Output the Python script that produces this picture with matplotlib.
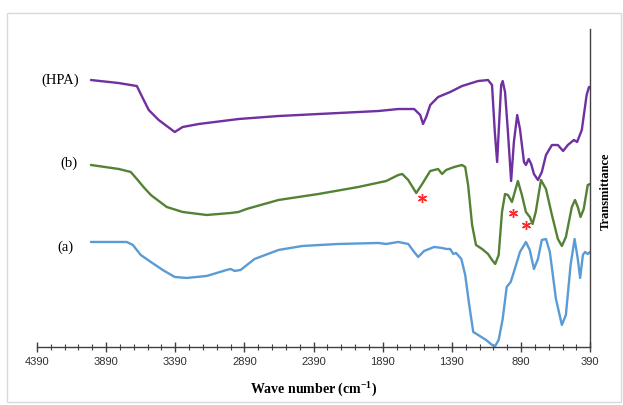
import matplotlib.pyplot as plt
from matplotlib.patches import Rectangle

# FTIR spectra, offsets in arbitrary transmittance units
wn_hpa = [4000, 3800, 3668, 3640, 3582, 3510, 3394, 3337, 3221, 2933, 2644, 2355, 2067, 1922, 1778,
          1663, 1619, 1599, 1576, 1547, 1490, 1403, 1317, 1201, 1129, 1100, 1080, 1063, 1052,
          1034, 1023, 1006, 985, 962, 942, 918, 898, 869, 855, 835, 817, 797, 768, 740, 710,
          667, 624, 586, 552, 508, 485, 451, 416, 399, 390]
t_hpa = [267, 264, 261, 253, 237, 227, 215, 220, 223, 228, 231, 233, 235, 236, 238,
         238, 232, 223, 230, 242, 250, 255, 261, 266, 267, 262, 215, 185, 215,
         262, 266, 255, 215, 166, 205, 232, 218, 185, 182, 188, 183, 173, 167, 175, 192,
         202, 202, 196, 202, 207, 205, 217, 252, 260, 260]

wn_b = [4000, 3798, 3712, 3668, 3620, 3567, 3500, 3452, 3337, 3163, 2990, 2933, 2875, 2644, 2355, 2067,
        1865, 1778, 1749, 1706, 1648, 1605, 1547, 1490, 1461, 1432, 1374, 1317, 1294, 1273,
        1244, 1216, 1172, 1129, 1100, 1077, 1052, 1028, 1006, 985, 956, 913, 884, 855, 827,
        807, 784, 746, 710, 667, 624, 595, 566, 523, 500, 480, 460, 437, 408, 390]
t_b = [182, 178, 175, 168, 160, 152, 145, 140, 135, 132, 134, 135, 138, 147, 153, 160,
       166, 172, 173, 167, 154, 163, 176, 178, 173, 177, 180, 182, 180, 162,
       122, 102, 98, 93, 87, 83, 92, 135, 153, 152, 145, 166, 152, 135, 130,
       123, 135, 167, 158, 132, 108, 101, 110, 140, 147, 140, 130, 138, 162, 163]

wn_a = [4000, 3741, 3697, 3640, 3567, 3481, 3394, 3308, 3163, 3019, 2990, 2961, 2918, 2817,
        2644, 2471, 2211, 1922, 1865, 1778, 1706, 1663, 1634, 1591, 1519, 1461, 1432, 1403,
        1380, 1360, 1322, 1294, 1265, 1236, 1201, 1143, 1100, 1077, 1052, 1023, 994, 965,
        942, 898, 855, 827, 797, 768, 740, 710, 682, 638, 595, 566, 532, 503, 480, 463,
        443, 428, 408, 390]
t_a = [105, 105, 102, 92, 85, 77, 70, 69, 71, 77, 78, 76, 77, 88,
       97, 101, 103, 104, 103, 105, 103, 95, 90, 96, 100, 99, 98, 98,
       93, 94, 88, 72, 42, 15, 12, 7, 2, 1, 7, 28, 60, 65,
       75, 95, 105, 97, 78, 88, 107, 108, 95, 48, 22, 32, 82, 108, 88, 69,
       92, 95, 93, 95]

star_wn = [1605, 950, 855]
star_t = [149, 134, 122]

fig = plt.figure(figsize=(6.23, 4.06), dpi=100)
ax = fig.add_axes([0.0594, 0.143, 0.888, 0.783])

for wn, t, c in [(wn_hpa, t_hpa, '#7030A0'), (wn_b, t_b, '#548235'), (wn_a, t_a, '#5B9BD5')]:
    ax.plot(wn, t, color=c, lw=1.7, solid_joinstyle='round', solid_capstyle='round')
ax.plot(star_wn, star_t, ls='none', marker=(6, 2, 0), ms=6.5, mew=1.0, color='#FF2A2A')

ax.set_xlim(4390, 390)
ax.set_ylim(0, 318)
ax.set_xticks(range(4390, 389, -500))
ax.set_xticks(range(4390, 389, -100), minor=True)
ax.tick_params(axis='x', which='major', direction='inout', length=7, width=1, colors='#404040',
               labelcolor='#303030', labelsize=8, pad=3)
ax.tick_params(axis='x', which='minor', direction='inout', length=4, width=0.8, colors='#404040')
for lbl in ax.get_xticklabels():
    lbl.set_fontfamily('Liberation Sans')
ax.set_yticks([])
for s in ['left', 'top']:
    ax.spines[s].set_visible(False)
for s in ['bottom', 'right']:
    ax.spines[s].set_color('#404040')
    ax.spines[s].set_linewidth(1.0)

ax.set_xlabel('Wave number (cm$^{\\mathregular{-1}}$)', fontfamily='Liberation Serif',
              fontweight='bold', fontsize=10, labelpad=9)

fig.text(0.972, 0.53, 'Transmittance', rotation=90, ha='center', va='center',
         fontfamily='Liberation Serif', fontweight='bold', fontsize=9)

ax.text(4224, 268, '(HPA)', ha='center', va='center', fontfamily='Liberation Serif', fontsize=10.5)
ax.text(4162, 185, '(b)', ha='center', va='center', fontfamily='Liberation Serif', fontsize=10.5)
ax.text(4187, 101, '(a)', ha='center', va='center', fontfamily='Liberation Serif', fontsize=10.5)

fig.patches.append(Rectangle((0.012, 0.008), 0.985, 0.957, transform=fig.transFigure,
                             fill=False, edgecolor='#D9D9D9', lw=1))

fig.savefig('out.png', dpi=100)
